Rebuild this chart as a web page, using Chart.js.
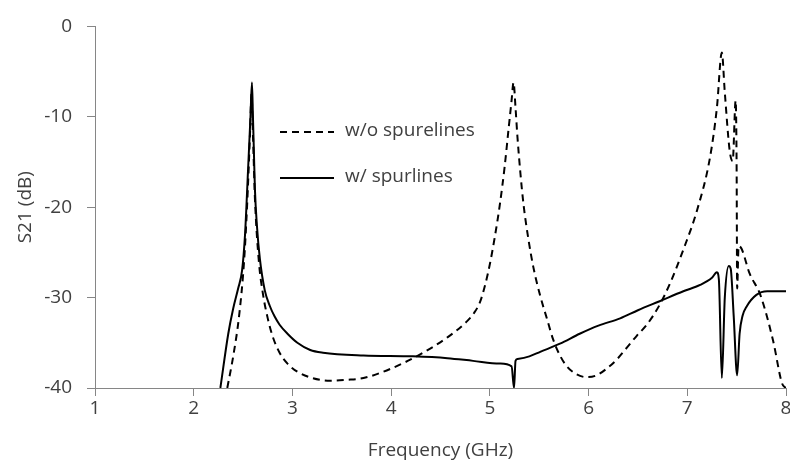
<!DOCTYPE html>
<html>
<head>
<meta charset="utf-8">
<script src="https://cdn.jsdelivr.net/npm/chart.js@4/dist/chart.umd.min.js"></script>
<style>
  html, body { margin: 0; padding: 0; background: #fff; }
  canvas { display: block; }
</style>
</head>
<body>
<canvas id="s21Chart" width="790" height="466"></canvas>
<script>
// series labels (kept as in the figure)
const seriesLabels = ["w/o spurelines", "w/ spurlines"];

// w/o spurlines (dashed)
const freqWithout = [2.34, 2.40, 2.46, 2.51, 2.54, 2.57, 2.585, 2.60, 2.62, 2.66, 2.70, 2.75, 2.80, 2.87, 2.95, 3.05, 3.20, 3.38, 3.55, 3.72, 3.99, 4.29, 4.57, 4.77, 4.84, 4.90, 4.95, 5.00, 5.05, 5.10, 5.15, 5.19, 5.22, 5.24, 5.26, 5.28, 5.31, 5.34, 5.39, 5.44, 5.51, 5.58, 5.64, 5.71, 5.78, 5.88, 5.98, 6.08, 6.19, 6.29, 6.39, 6.49, 6.59, 6.72, 6.83, 6.96, 7.10, 7.23, 7.30, 7.35, 7.38, 7.43, 7.46, 7.49, 7.50, 7.505, 7.52, 7.55, 7.63, 7.74, 7.87, 7.96, 8.00];
const s21Without = [-40, -36.5, -32, -26, -20, -12, -7.5, -12, -19, -26, -29.5, -32.3, -34.3, -36.1, -37.3, -38.2, -38.9, -39.2, -39.1, -38.9, -37.9, -36.3, -34.4, -32.6, -31.7, -30.5, -28.7, -26.3, -23.3, -19.8, -15.5, -11.3, -8.2, -6.2, -9, -12.3, -16.3, -19.6, -23.5, -26.6, -29.8, -32.4, -34.6, -36.4, -37.6, -38.5, -38.8, -38.6, -37.8, -36.8, -35.5, -34.2, -33, -30.8, -28.3, -24.7, -20.3, -14.5, -9, -2.9, -7.3, -13.8, -14.9, -8.2, -16, -29, -24.3, -24.6, -27.3, -29.7, -34.8, -39.5, -40];

// w/ spurlines (solid)
const freqWith = [2.27, 2.35, 2.40, 2.45, 2.49, 2.52, 2.55, 2.575, 2.59, 2.60, 2.61, 2.62, 2.64, 2.67, 2.72, 2.77, 2.82, 2.87, 2.95, 3.05, 3.18, 3.31, 3.72, 4.22, 4.57, 4.83, 5.10, 5.22, 5.245, 5.26, 5.28, 5.40, 5.51, 5.71, 5.91, 6.10, 6.32, 6.50, 6.72, 6.96, 7.13, 7.25, 7.30, 7.32, 7.35, 7.38, 7.42, 7.44, 7.47, 7.505, 7.53, 7.56, 7.60, 7.70, 7.81, 8.00];
const s21With = [-40, -34, -31.2, -29, -27, -23, -16, -10, -6.2, -10, -14, -18, -22, -25.7, -29.2, -30.9, -32.1, -33, -34, -35, -35.8, -36.1, -36.4, -36.5, -36.7, -37, -37.3, -37.6, -40, -37, -36.8, -36.5, -36, -35.1, -34, -33.1, -32.3, -31.4, -30.4, -29.3, -28.6, -27.8, -27.2, -28, -38.9, -30, -26.5, -26.8, -32, -38.6, -34, -32, -31, -29.7, -29.3, -29.3];

// axis ticks
const xTicks = [1, 2, 3, 4, 5, 6, 7, 8];
const yTicks = [-40, -30, -20, -10, 0];

const textColor = '#404040';
const axisColor = '#868686';
const fontFamily = "'Open Sans', sans-serif";
const fontSize = 19;

function toPoints(xs, ys) {
    return xs.map((x, i) => ({ x: x, y: ys[i] }));
}

// legend drawn inside the plot, like the original
const insideLegend = {
    id: 'insideLegend',
    afterDatasetsDraw(chart) {
        const ctx = chart.ctx;
        const rows = [132, 178];
        ctx.save();
        chart.data.datasets.forEach((ds, i) => {
            const y = rows[i];
            ctx.beginPath();
            ctx.setLineDash(ds.borderDash || []);
            ctx.lineWidth = ds.borderWidth;
            ctx.strokeStyle = ds.borderColor;
            ctx.moveTo(280, y);
            ctx.lineTo(334, y);
            ctx.stroke();
            ctx.setLineDash([]);
            ctx.fillStyle = textColor;
            ctx.font = fontSize + "px " + fontFamily;
            ctx.textBaseline = 'middle';
            ctx.textAlign = 'left';
            ctx.fillText(ds.label, 345, y - 1);
        });
        ctx.restore();
    }
};

var ctx = document.getElementById('s21Chart');
var chart = new Chart(ctx, {
    type: 'line',
    data: {
        datasets: [{
            label: seriesLabels[0],
            data: toPoints(freqWithout, s21Without),
            borderColor: '#000',
            borderWidth: 2,
            borderDash: [7, 5],
            pointRadius: 0,
            cubicInterpolationMode: 'monotone',
            fill: false,
        }, {
            label: seriesLabels[1],
            data: toPoints(freqWith, s21With),
            borderColor: '#000',
            borderWidth: 2,
            pointRadius: 0,
            cubicInterpolationMode: 'monotone',
            fill: false,
        }],
    },
    options: {
        responsive: false,
        animation: false,
        layout: {
            padding: { left: 0, right: 4, top: 20, bottom: 0 },
        },
        plugins: {
            legend: { display: false },
            tooltip: { enabled: false },
        },
        scales: {
            x: {
                type: 'linear',
                min: 1,
                max: 8,
                afterBuildTicks(scale) {
                    scale.ticks = xTicks.map(v => ({ value: v }));
                },
                afterFit(scale) {
                    scale.height = 78;
                    scale.paddingRight = 0;
                    scale.paddingLeft = 0;
                },
                grid: {
                    drawOnChartArea: false,
                    drawTicks: true,
                    tickLength: 8,
                    tickColor: axisColor,
                },
                border: { color: axisColor, width: 1 },
                ticks: {
                    padding: 1,
                    maxRotation: 0,
                    color: textColor,
                    font: { size: fontSize, family: fontFamily },
                },
                title: {
                    display: true,
                    text: 'Frequency (GHz)',
                    color: textColor,
                    font: { size: fontSize, family: fontFamily },
                    padding: { top: 0, bottom: 4 },
                },
            },
            y: {
                min: -40,
                max: 0,
                afterBuildTicks(scale) {
                    scale.ticks = yTicks.map(v => ({ value: v }));
                },
                afterFit(scale) {
                    scale.width = 95;
                },
                grid: {
                    drawOnChartArea: false,
                    drawTicks: true,
                    tickLength: 8,
                    tickColor: axisColor,
                },
                border: { color: axisColor, width: 1 },
                ticks: {
                    padding: 15,
                    color: textColor,
                    font: { size: fontSize, family: fontFamily },
                },
                title: {
                    display: true,
                    text: 'S21 (dB)',
                    color: textColor,
                    font: { size: fontSize, family: fontFamily },
                    padding: { top: 14, bottom: 0 },
                },
            },
        },
    },
    plugins: [insideLegend],
});
</script>
</body>
</html>
